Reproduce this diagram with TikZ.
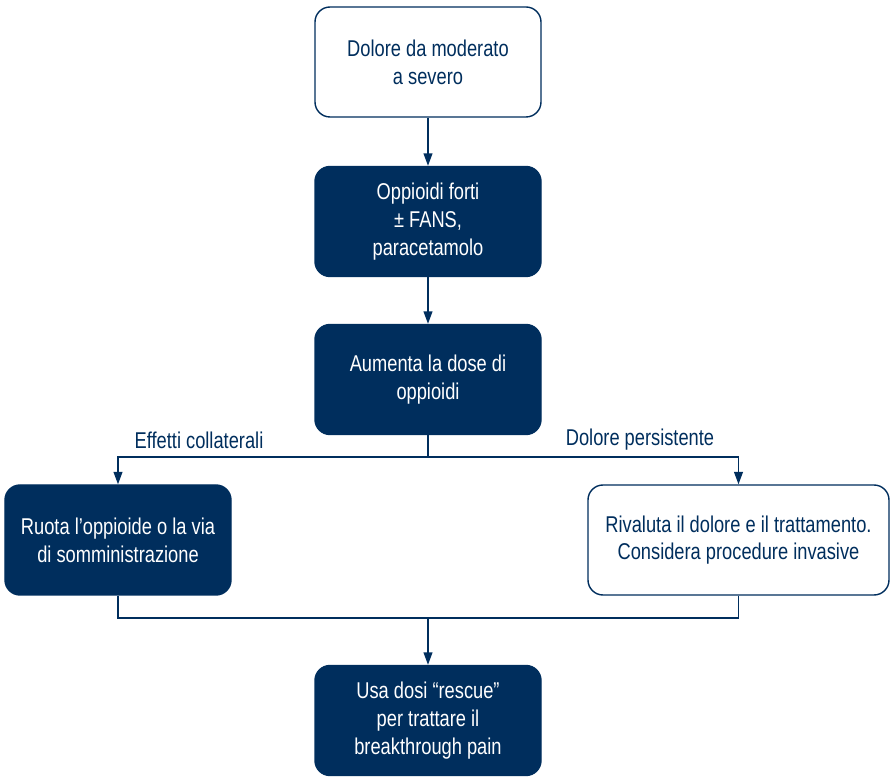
\documentclass[tikz,border=0pt]{standalone}
\usepackage{fontspec}
\setmainfont{Liberation Sans}[FakeStretch=0.8]
\usetikzlibrary{arrows.meta}
\definecolor{navy}{RGB}{0,46,93}

\begin{document}
\begin{tikzpicture}[
	box/.style={rounded corners=0.3cm, draw=navy, line width=0.8pt, minimum width=4.52cm, minimum height=2.2cm, align=center, font=\fontsize{13}{15.8}\selectfont},
	openbox/.style={box, fill=white, text=navy},
	darkbox/.style={box, fill=navy, text=white},
	link/.style={navy, line width=0.8pt},
	arrow/.style={link, -{Triangle[width=5pt,length=7pt]}},
	branch/.style={text=navy, font=\fontsize{13}{15.8}\selectfont}
]
	\useasboundingbox (0,0) rectangle (17.8,-15.54);

	\node[openbox] (pain) at (8.56,-1.24) {Dolore da moderato\\a severo};
	\node[darkbox] (strong) at (8.56,-4.43) {Oppioidi forti\\± FANS,\\paracetamolo};
	\node[darkbox] (increase) at (8.56,-7.59) {Aumenta la dose di\\oppioidi};
	\node[darkbox] (rotate) at (2.36,-10.8) {Ruota l’oppioide o la via\\di somministrazione};
	\node[openbox, minimum width=6.02cm] (review) at (14.77,-10.8) {Rivaluta il dolore e il trattamento.\\Considera procedure invasive};
	\node[darkbox] (rescue) at (8.56,-14.41) {Usa dosi “rescue”\\per trattare il\\breakthrough pain};

	\coordinate (split) at (8.56,-9.14);
	\coordinate (join) at (8.56,-12.36);

	\draw[arrow] (pain) -- (strong);
	\draw[arrow] (strong) -- (increase);

	% split after dose increase
	\draw[link] (increase) -- (split);
	\draw[arrow] (split) -| (rotate.north);
	\draw[arrow] (split) -| (review.north);
	\node[branch] (side) at (3.98,-8.8) {Effetti collaterali};
	\node[branch] (persist) at (12.8,-8.8) {Dolore persistente};

	% join towards rescue doses
	\draw[link] (rotate.south) |- (join);
	\draw[link] (review.south) |- (join);
	\draw[arrow] (join) -- (rescue);
\end{tikzpicture}
\end{document}
